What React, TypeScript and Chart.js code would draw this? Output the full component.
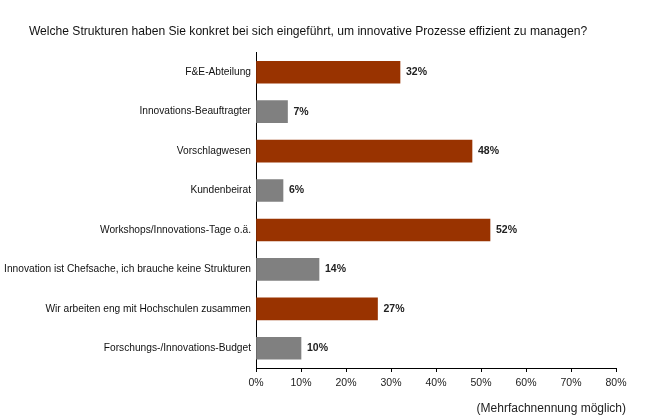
import React, { useEffect, useRef } from "react";
import { Chart, registerables } from "chart.js";

Chart.register(...registerables);

const title = "Welche Strukturen haben Sie konkret bei sich eingeführt, um innovative Prozesse effizient zu managen?";
const footnote = "(Mehrfachnennung möglich)";
const categories = [
  "F&E-Abteilung",
  "Innovations-Beauftragter",
  "Vorschlagwesen",
  "Kundenbeirat",
  "Workshops/Innovations-Tage o.ä.",
  "Innovation ist Chefsache, ich brauche keine Strukturen",
  "Wir arbeiten eng mit Hochschulen zusammen",
  "Forschungs-/Innovations-Budget",
];
const values = [32, 7, 48, 6, 52, 14, 27, 10];
const barColors = ["#993300", "#808080", "#993300", "#808080", "#993300", "#808080", "#993300", "#808080"];
const xTicksMax = 80;
const xTicksStep = 10;

const FONT = "'Liberation Sans', Arial, sans-serif";

const labelPlugin = {
  id: "valueLabels",
  afterDatasetsDraw(chart: any) {
    const ctx = chart.ctx;
    const meta = chart.getDatasetMeta(0);
    ctx.save();
    ctx.font = `bold 10.5px ${FONT}`;
    ctx.fillStyle = "#222";
    ctx.textAlign = "left";
    ctx.textBaseline = "middle";
    meta.data.forEach((bar: any, i: number) => {
      ctx.fillText(values[i] + "%", bar.x + 6, bar.y);
    });
    ctx.restore();
  },
  afterDraw(chart: any) {
    const ctx = chart.ctx;
    ctx.save();
    ctx.font = `12px ${FONT}`;
    ctx.fillStyle = "#222";
    ctx.textAlign = "right";
    ctx.textBaseline = "middle";
    ctx.fillText(footnote, 626, 409);
    ctx.restore();
  },
};

export default function App() {
  const ref = useRef<HTMLCanvasElement>(null);
  useEffect(() => {
    if (!ref.current) return;
    const chart = new Chart(ref.current, {
      type: "bar",
      data: {
        labels: categories,
        datasets: [
          {
            data: values,
            backgroundColor: barColors,
            borderWidth: 0,
            barThickness: 22,
          },
        ],
      },
      options: {
        indexAxis: "y",
        animation: false,
        responsive: false,
        maintainAspectRatio: false,
        layout: { padding: { left: 0, right: 45, top: 0, bottom: 20 } },
        plugins: {
          legend: { display: false },
          tooltip: { enabled: false },
          title: {
            display: true,
            text: title,
            color: "#111",
            font: { family: FONT, size: 12.1, weight: "normal" },
            padding: { top: 24, bottom: 14 },
          },
        },
        scales: {
          x: {
            min: 0,
            max: xTicksMax,
            border: { display: true, color: "#000", width: 1 },
            grid: { display: true, drawOnChartArea: false, drawTicks: true, tickLength: 4, color: "#000" },
            ticks: {
              stepSize: xTicksStep,
              color: "#222",
              padding: 5,
              font: { family: FONT, size: 10.5 },
              callback: (v: any) => v + "%",
            },
            afterFit: (s: any) => {
              s.height = 32;
            },
          },
          y: {
            border: { display: true, color: "#000", width: 1 },
            grid: { display: false, drawTicks: false, tickLength: 0 },
            ticks: {
              color: "#111",
              padding: 5,
              font: { family: FONT, size: 10.2 },
            },
            afterFit: (s: any) => {
              s.width = 256;
            },
          },
        },
      },
      plugins: [labelPlugin],
    });
    return () => chart.destroy();
  }, []);
  return (
    <div style={{ position: "fixed", left: 0, top: 0, width: 661, height: 420, background: "#fff" }}>
      <canvas ref={ref} width={661} height={420} style={{ width: 661, height: 420 }} />
    </div>
  );
}
